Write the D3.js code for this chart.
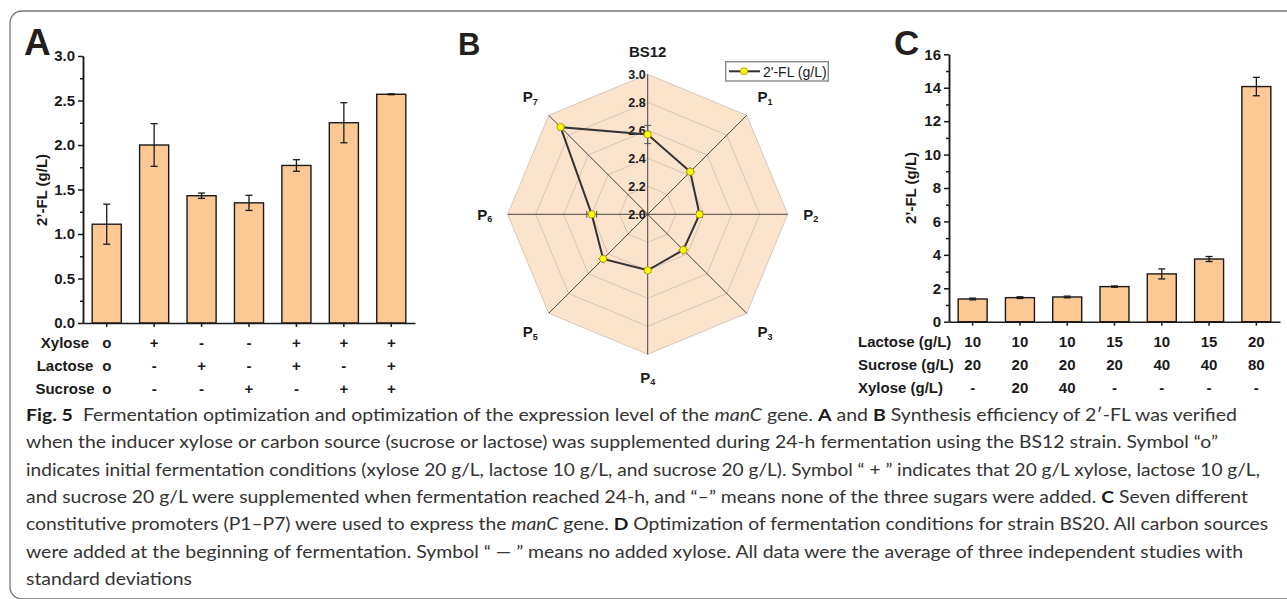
<!DOCTYPE html>
<html>
<head>
<meta charset="utf-8">
<script src="https://cdn.jsdelivr.net/npm/d3@7"></script>
<style>
  body { margin: 0; background: #fff; }
  svg { display: block; }
  .axis text { font-family: 'Liberation Sans', Arial, sans-serif; font-weight: bold; font-size: 15px; fill: #1a1a1a; }
  .axis path, .axis line { stroke: #1a1a1a; stroke-width: 1.5; }
  .lbl { font-family: 'Liberation Sans', Arial, sans-serif; font-weight: bold; fill: #1a1a1a; }
  .cap { font-family: Lato, 'Open Sans', sans-serif; font-size: 17.5px; fill: #333; }
</style>
</head>
<body>
<script>
// panel A data
var condA = ["c1", "c2", "c3", "c4", "c5", "c6", "c7"];
var valuesA = [1.11, 2.00, 1.43, 1.35, 1.77, 2.25, 2.57];
var errorsA = [0.225, 0.24, 0.03, 0.085, 0.065, 0.225, 0.005];
var xyloseA = ["o", "+", "-", "-", "+", "+", "+"];
var lactoseA = ["o", "-", "+", "-", "+", "-", "+"];
var sucroseA = ["o", "-", "-", "+", "-", "+", "+"];
var ticksA = [0, 0.5, 1.0, 1.5, 2.0, 2.5, 3.0];

// panel B data
var radarAxes = ["BS12", "P1", "P2", "P3", "P4", "P5", "P6", "P7"];
var radarValues = [2.57, 2.43, 2.37, 2.36, 2.40, 2.45, 2.40, 2.88];
var radarErrors = [0.065, 0.02, 0.02, 0.02, 0.015, 0.02, 0.035, 0.01];
var radarTicks = [2.0, 2.2, 2.4, 2.6, 2.8, 3.0];

// panel C data
var condC = ["d1", "d2", "d3", "d4", "d5", "d6", "d7"];
var valuesC = [1.36, 1.44, 1.48, 2.10, 2.86, 3.75, 14.07];
var errorsC = [0.05, 0.05, 0.05, 0.04, 0.3, 0.15, 0.55];
var lactoseC = ["10", "10", "10", "15", "10", "15", "20"];
var sucroseC = ["20", "20", "20", "20", "40", "40", "80"];
var xyloseC = ["-", "20", "40", "-", "-", "-", "-"];
var ticksC = [0, 2, 4, 6, 8, 10, 12, 14, 16];

var barFill = "#fcc995";
var ink = "#1a1a1a";

var svg = d3.select("body").append("svg")
    .attr("width", 1287)
    .attr("height", 599);

// figure frame (open on the right)
svg.append("path")
    .attr("d", "M1300,11 H22 A12,12 0 0 0 10,23 V587 A12,12 0 0 0 22,599 H1300")
    .attr("fill", "none")
    .attr("stroke", "#777")
    .attr("stroke-width", 1.3);

function panelLetter(t, x, y, size) {
    svg.append("text")
        .attr("class", "lbl")
        .attr("x", x).attr("y", y)
        .style("font-size", size + "px")
        .style("fill", "#231f20")
        .text(t);
}

// bar chart helper for A and C
function barPanel(cfg) {
    var x = d3.scaleBand().domain(cfg.cats).range(cfg.xr)
        .paddingInner(0.387).paddingOuter(0.1935);
    var y = d3.scaleLinear().domain(cfg.yd).range(cfg.yr);
    var g = svg.append("g");

    g.selectAll("rect.bar")
        .data(cfg.values)
        .enter().append("rect")
        .attr("class", "bar")
        .attr("x", function (d, i) { return x(cfg.cats[i]); })
        .attr("width", x.bandwidth())
        .attr("y", function (d) { return y(d); })
        .attr("height", function (d) { return y(0) - y(d); })
        .attr("fill", barFill)
        .attr("stroke", ink)
        .attr("stroke-width", 1.4);

    var eb = g.selectAll("g.err")
        .data(cfg.values)
        .enter().append("g")
        .attr("class", "err")
        .attr("transform", function (d, i) {
            return "translate(" + (x(cfg.cats[i]) + x.bandwidth() / 2) + ",0)";
        });
    eb.append("line")
        .attr("y1", function (d, i) { return y(d - cfg.errors[i]); })
        .attr("y2", function (d, i) { return y(d + cfg.errors[i]); });
    eb.append("line").attr("x1", -3.5).attr("x2", 3.5)
        .attr("y1", function (d, i) { return y(d - cfg.errors[i]); })
        .attr("y2", function (d, i) { return y(d - cfg.errors[i]); });
    eb.append("line").attr("x1", -3.5).attr("x2", 3.5)
        .attr("y1", function (d, i) { return y(d + cfg.errors[i]); })
        .attr("y2", function (d, i) { return y(d + cfg.errors[i]); });
    eb.selectAll("line").attr("stroke", ink).attr("stroke-width", 1.3);

    // minor ticks
    g.append("g")
        .attr("class", "axis")
        .attr("transform", "translate(" + cfg.xr[0] + ",0)")
        .call(d3.axisLeft(y).tickValues(cfg.minor).tickSize(3).tickSizeOuter(0).tickFormat(""));
    g.append("g")
        .attr("class", "axis")
        .attr("transform", "translate(" + cfg.xr[0] + ",0)")
        .call(d3.axisLeft(y).tickValues(cfg.ticks).tickSize(5).tickSizeOuter(0)
            .tickPadding(3).tickFormat(cfg.fmt));
    g.append("g")
        .attr("class", "axis")
        .attr("transform", "translate(0," + y(0) + ")")
        .call(d3.axisBottom(x).tickSize(4).tickSizeOuter(0).tickFormat(""));

    g.append("text")
        .attr("class", "lbl")
        .attr("transform", "translate(" + cfg.ylabX + "," + cfg.ylabY + ") rotate(-90)")
        .attr("text-anchor", "middle")
        .style("font-size", "15px")
        .text("2’-FL (g/L)");

    // condition table under the axis
    cfg.rows.forEach(function (row) {
        g.append("text")
            .attr("class", "lbl")
            .attr("x", cfg.rowLabelX).attr("y", row.y)
            .attr("dy", "0.35em")
            .attr("text-anchor", cfg.rowAnchor)
            .style("font-size", "15px")
            .text(row.name);
        g.selectAll(null)
            .data(row.vals)
            .enter().append("text")
            .attr("class", "lbl")
            .attr("x", function (d, i) { return x(cfg.cats[i]) + x.bandwidth() / 2; })
            .attr("y", row.y)
            .attr("dy", "0.35em")
            .attr("text-anchor", "middle")
            .style("font-size", "15px")
            .text(function (d) { return d; });
    });
}

barPanel({
    cats: condA, values: valuesA, errors: errorsA,
    xr: [83, 415], yd: [0, 3], yr: [323, 56],
    ticks: ticksA, minor: d3.range(0.25, 3, 0.5), fmt: d3.format(".1f"),
    ylabX: 47, ylabY: 190,
    rowLabelX: 65, rowAnchor: "middle",
    rows: [
        {name: "Xylose", vals: xyloseA, y: 343},
        {name: "Lactose", vals: lactoseA, y: 366},
        {name: "Sucrose", vals: sucroseA, y: 389}
    ]
});
panelLetter("A", 24, 55, 37);

barPanel({
    cats: condC, values: valuesC, errors: errorsC,
    xr: [949, 1280], yd: [0, 16], yr: [321.7, 54.3],
    ticks: ticksC, minor: d3.range(1, 16, 2), fmt: d3.format("d"),
    ylabX: 916, ylabY: 188,
    rowLabelX: 858, rowAnchor: "start",
    rows: [
        {name: "Lactose (g/L)", vals: lactoseC, y: 341.7},
        {name: "Sucrose (g/L)", vals: sucroseC, y: 365},
        {name: "Xylose (g/L)", vals: xyloseC, y: 388}
    ]
});
panelLetter("C", 894, 55, 35);

// panel B radar
var cx = 647.7, cy = 214.3;
var rScale = d3.scaleLinear().domain([2, 3]).range([0, 140]);
var n = radarAxes.length;
function pt(i, v) {
    var a = i * 2 * Math.PI / n;
    var r = rScale(v);
    return [cx + r * Math.sin(a), cy - r * Math.cos(a)];
}
var gB = svg.append("g");
var levels = radarTicks.slice(1).reverse();
gB.selectAll("path.grid")
    .data(levels)
    .enter().append("path")
    .attr("class", "grid")
    .attr("d", function (v) {
        return d3.line()(d3.range(n).map(function (i) { return pt(i, v); })) + "Z";
    })
    .attr("fill", function (v, k) { return k === 0 ? "#fce3cc" : "none"; })
    .attr("stroke", "#cbbcae")
    .attr("stroke-width", 0.8);

gB.selectAll("line.spoke")
    .data(radarAxes)
    .enter().append("line")
    .attr("x1", cx).attr("y1", cy)
    .attr("x2", function (d, i) { return pt(i, 3)[0]; })
    .attr("y2", function (d, i) { return pt(i, 3)[1]; })
    .attr("stroke", "#444")
    .attr("stroke-width", 1);

gB.selectAll("text.rt")
    .data(radarTicks)
    .enter().append("text")
    .attr("class", "lbl")
    .attr("x", cx - 2)
    .attr("y", function (v) { return cy - rScale(v); })
    .attr("dy", "0.35em")
    .attr("text-anchor", "end")
    .style("font-size", "12.5px")
    .text(d3.format(".1f"));

// data line
gB.append("path")
    .attr("d", d3.line()(radarValues.map(function (v, i) { return pt(i, v); })) + "Z")
    .attr("fill", "none")
    .attr("stroke", "#333")
    .attr("stroke-width", 2);

// radial error bars
radarValues.forEach(function (v, i) {
    var a = i * 2 * Math.PI / n;
    var p1 = pt(i, v - radarErrors[i]), p2 = pt(i, v + radarErrors[i]);
    var px = Math.cos(a) * 3.5, py = Math.sin(a) * 3.5;
    var eg = gB.append("g").attr("stroke", "#555").attr("stroke-width", 1);
    eg.append("line").attr("x1", p1[0]).attr("y1", p1[1]).attr("x2", p2[0]).attr("y2", p2[1]);
    [p1, p2].forEach(function (p) {
        eg.append("line")
            .attr("x1", p[0] - px).attr("y1", p[1] - py)
            .attr("x2", p[0] + px).attr("y2", p[1] + py);
    });
});

gB.selectAll("circle.pt")
    .data(radarValues)
    .enter().append("circle")
    .attr("class", "pt")
    .attr("cx", function (v, i) { return pt(i, v)[0]; })
    .attr("cy", function (v, i) { return pt(i, v)[1]; })
    .attr("r", 3.6)
    .attr("fill", "#ffff00")
    .attr("stroke", "#a09000")
    .attr("stroke-width", 0.8);

// axis labels
radarAxes.forEach(function (name, i) {
    var a = i * 2 * Math.PI / n;
    var diag = (i % 2 === 1) ? 166 : 163;
    var lx = cx + diag * Math.sin(a), ly = cy - diag * Math.cos(a);
    var t = gB.append("text")
        .attr("class", "lbl")
        .attr("x", lx).attr("y", ly)
        .attr("dy", "0.35em")
        .attr("text-anchor", "middle")
        .style("font-size", "15px");
    if (name.charAt(0) === "P") {
        t.append("tspan").text("P");
        t.append("tspan").attr("dy", "0.3em").style("font-size", "9px").text(name.slice(1));
    } else {
        t.text(name);
    }
});

// legend
var lg = svg.append("g");
lg.append("rect")
    .attr("x", 725.7).attr("y", 61.7).attr("width", 102.6).attr("height", 19.3)
    .attr("fill", "#fff").attr("stroke", "#888").attr("stroke-width", 1.4);
lg.append("line")
    .attr("x1", 729).attr("x2", 760).attr("y1", 71.3).attr("y2", 71.3)
    .attr("stroke", "#333").attr("stroke-width", 2);
lg.append("circle")
    .attr("cx", 744).attr("cy", 71.3).attr("r", 3.6)
    .attr("fill", "#ffff00").attr("stroke", "#a09000").attr("stroke-width", 0.8);
lg.append("text")
    .attr("x", 763).attr("y", 76.5)
    .style("font-family", "'Liberation Sans', Arial, sans-serif")
    .style("font-size", "14px")
    .style("fill", ink)
    .text("2'-FL (g/L)");

panelLetter("B", 458, 55, 31);

// caption
var captionLines = [
    [["b", "Fig. 5"], ["n", "  Fermentation optimization and optimization of the expression level of the "], ["i", "manC"], ["n", " gene. "], ["b", "A"], ["n", " and "], ["b", "B"], ["n", " Synthesis efficiency of 2′-FL was verified"]],
    [["n", "when the inducer xylose or carbon source (sucrose or lactose) was supplemented during 24-h fermentation using the BS12 strain. Symbol “o”"]],
    [["n", "indicates initial fermentation conditions (xylose 20 g/L, lactose 10 g/L, and sucrose 20 g/L). Symbol “ + ” indicates that 20 g/L xylose, lactose 10 g/L,"]],
    [["n", "and sucrose 20 g/L were supplemented when fermentation reached 24-h, and “–” means none of the three sugars were added. "], ["b", "C"], ["n", " Seven different"]],
    [["n", "constitutive promoters (P1–P7) were used to express the "], ["i", "manC"], ["n", " gene. "], ["b", "D"], ["n", " Optimization of fermentation conditions for strain BS20. All carbon sources"]],
    [["n", "were added at the beginning of fermentation. Symbol “ — ” means no added xylose. All data were the average of three independent studies with"]],
    [["n", "standard deviations"]]
];
var captionEnds = [1237, 1218, 1260, 1248, 1268, 1243, 192];

captionLines.forEach(function (line, k) {
    var t = svg.append("text")
        .attr("class", "cap")
        .attr("x", 26)
        .attr("y", 421 + k * 27.3)
        .attr("textLength", captionEnds[k] - 26)
        .attr("lengthAdjust", "spacingAndGlyphs")
        .attr("xml:space", "preserve");
    line.forEach(function (seg) {
        var s = t.append("tspan").text(seg[1]);
        if (seg[0] === "b") s.style("font-weight", "bold").style("fill", "#1a1a1a");
        if (seg[0] === "i") s.style("font-style", "italic");
    });
});
</script>
</body>
</html>
